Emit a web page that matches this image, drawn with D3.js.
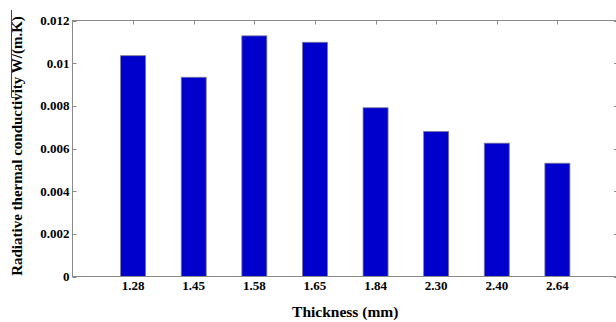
<!DOCTYPE html>
<html><head><meta charset="utf-8">
<script src="https://cdn.jsdelivr.net/npm/d3@7"></script>
<style>body{margin:0;background:#fff}svg{display:block}text{font-family:"Liberation Serif","Times New Roman",serif;font-weight:bold;fill:#000}</style>
</head><body><svg id="c" width="616" height="322"></svg>
<script>
const categories = ["1.28","1.45","1.58","1.65","1.84","2.30","2.40","2.64"];
const values = [0.01035,0.00934,0.01128,0.01098,0.00791,0.0068,0.00625,0.00531];
const yTicks = [0,0.002,0.004,0.006,0.008,0.01,0.012];
const yTickLabels = ["0","0.002","0.004","0.006","0.008","0.01","0.012"];
const xTitle = "Thickness (mm)";
const yTitle = "Radiative thermal conductivity W/(m.K)";

const svg = d3.select("#c");
const L = 72.5, T = 20.5, B = 276.5, R = 618;
const x = d3.scaleLinear().domain([0, categories.length + 1]).range([L, R]);
const y = d3.scaleLinear().domain([0, 0.012]).range([B, T]);
const bw = 25;
const axisColor = "#8a8a8a";

svg.append("g").selectAll("rect").data(values).join("rect")
  .attr("x", (d,i) => x(i+1) - bw/2)
  .attr("y", d => y(d))
  .attr("width", bw)
  .attr("height", d => y(0) - y(d))
  .attr("fill", "#0000cd")
  .attr("stroke", "#7a7a9a")
  .attr("stroke-width", 0.8);

svg.append("rect").attr("x", L).attr("y", T).attr("width", R - L).attr("height", B - T)
  .attr("fill", "none").attr("stroke", axisColor).attr("stroke-width", 1);

const yg = svg.append("g");
yTicks.forEach((t,i) => {
  const py = Math.round(y(t)) + 0.5;
  yg.append("line").attr("x1", L).attr("x2", L+4).attr("y1", py).attr("y2", py).attr("stroke", axisColor);
  yg.append("line").attr("x1", R).attr("x2", R-4).attr("y1", py).attr("y2", py).attr("stroke", axisColor);
  yg.append("text").attr("x", L-3).attr("y", y(t)).attr("dy", "0.35em")
    .attr("text-anchor", "end").attr("font-size", 13).text(yTickLabels[i]);
});

const xg = svg.append("g");
categories.forEach((c,i) => {
  const px = Math.round(x(i+1)) + 0.5;
  xg.append("line").attr("x1", px).attr("x2", px).attr("y1", T).attr("y2", T+4).attr("stroke", axisColor);
  xg.append("text").attr("x", x(i+1)).attr("y", 290).attr("text-anchor", "middle").attr("font-size", 13).text(c);
});

svg.append("text").attr("x", (L + R) / 2).attr("y", 317).attr("text-anchor", "middle").attr("font-size", 15.5).text(xTitle);
svg.append("text").attr("transform", "translate(22,146) rotate(-90)").attr("text-anchor", "middle").attr("font-size", 15).text(yTitle);

svg.append("path").attr("d", "M11.5,10 V97.5 H22").attr("fill", "none").attr("stroke", "#444").attr("stroke-width", 1);
</script></body></html>
